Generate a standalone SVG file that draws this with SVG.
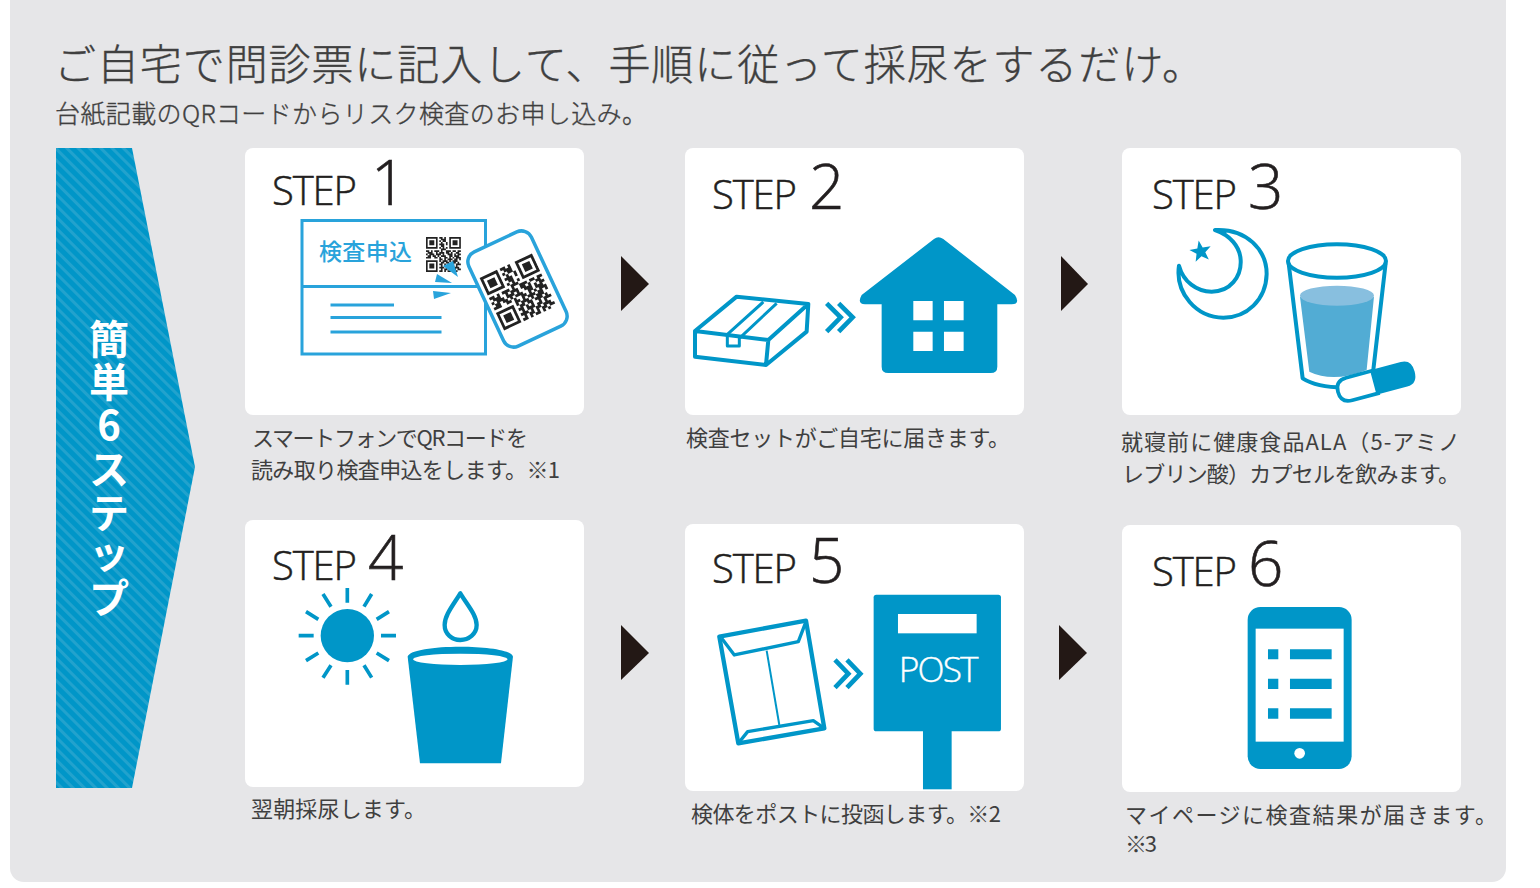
<svg xmlns="http://www.w3.org/2000/svg" xmlns:xlink="http://www.w3.org/1999/xlink" width="1540" height="888" viewBox="0 0 1540 888">
<style>
text{font-family:"Noto Sans CJK JP","Noto Sans",sans-serif;font-weight:400;fill:#3f3f3f}
.cap{font-size:22px}
.head{font-weight:300;stroke:#3f3f3f;stroke-width:.35}
.step{font-family:"Open Sans","Noto Sans",sans-serif;font-weight:300;font-size:40px;fill:#231f20;stroke:#231f20;stroke-width:.5}
.num{font-family:"Open Sans","Noto Sans",sans-serif;font-weight:300;font-size:62px;fill:#231f20;stroke:#231f20;stroke-width:.6}
.card{fill:#fff}
.b{fill:#0096c8}
.w{fill:#fff}
.ol{fill:none;stroke:#0096c8;stroke-linejoin:round}
.lb{fill:none;stroke:#29a3db}
.tb{fill:#29a3db}
</style>
<defs>
<pattern id="stripes" width="8" height="8" patternUnits="userSpaceOnUse" patternTransform="rotate(45)">
<rect width="8" height="8" fill="#0096c8"/><rect width="8" height="3" fill="#22a2cd"/>
</pattern>
<g id="qr"><path fill="none" stroke="#222" stroke-width="1.04" d="M0 .5h7M8 .5h2M11 .5h1M14 .5h7M0 1.5h1M6 1.5h1M9 1.5h3M14 1.5h1M20 1.5h1M0 2.5h1M2 2.5h3M6 2.5h1M8 2.5h1M10 2.5h2M14 2.5h1M16 2.5h3M20 2.5h1M0 3.5h1M2 3.5h3M6 3.5h1M9 3.5h1M12 3.5h1M14 3.5h1M16 3.5h3M20 3.5h1M0 4.5h1M2 4.5h3M6 4.5h1M8 4.5h3M12 4.5h1M14 4.5h1M16 4.5h3M20 4.5h1M0 5.5h1M6 5.5h1M9 5.5h2M14 5.5h1M20 5.5h1M0 6.5h7M8 6.5h1M10 6.5h1M12 6.5h1M14 6.5h7M9 7.5h3M0 8.5h2M3 8.5h1M5 8.5h3M9 8.5h1M12 8.5h3M16 8.5h2M19 8.5h2M1 9.5h3M6 9.5h1M8 9.5h3M12 9.5h2M15 9.5h1M18 9.5h2M0 10.5h1M2 10.5h3M6 10.5h3M10 10.5h1M13 10.5h3M17 10.5h1M19 10.5h2M1 11.5h2M4 11.5h2M7 11.5h1M9 11.5h3M14 11.5h2M17 11.5h3M0 12.5h3M5 12.5h2M8 12.5h1M11 12.5h2M14 12.5h1M16 12.5h1M18 12.5h3M8 13.5h2M11 13.5h1M13 13.5h3M17 13.5h2M20 13.5h1M0 14.5h7M8 14.5h1M10 14.5h3M14 14.5h1M16 14.5h3M0 15.5h1M6 15.5h1M9 15.5h2M12 15.5h2M15 15.5h3M19 15.5h1M0 16.5h1M2 16.5h3M6 16.5h1M8 16.5h2M11 16.5h1M13 16.5h1M16 16.5h1M18 16.5h3M0 17.5h1M2 17.5h3M6 17.5h1M9 17.5h1M11 17.5h3M15 17.5h2M18 17.5h1M0 18.5h1M2 18.5h3M6 18.5h1M8 18.5h3M12 18.5h1M14 18.5h2M17 18.5h3M0 19.5h1M6 19.5h1M9 19.5h1M11 19.5h2M14 19.5h1M16 19.5h2M19 19.5h2M0 20.5h7M8 20.5h2M11 20.5h1M13 20.5h2M16 20.5h1M18 20.5h1"/></g>
</defs>
<rect width="1540" height="888" fill="#fff"/>
<rect x="10" y="-14" width="1496" height="896" rx="14" fill="#e6e6e8"/>
<g id="title">
<text class="head" x="54" y="80" font-size="42" textLength="1150" lengthAdjust="spacing">ご自宅で問診票に記入して、手順に従って採尿をするだけ。</text>
<text class="head" x="55" y="123" font-size="25" textLength="592" lengthAdjust="spacing">台紙記載のQRコードからリスク検査のお申し込み。</text>
</g>
<g id="banner">
<polygon points="56,148 132,148 195,467 132,788 56,788" fill="url(#stripes)"/>
<text x="109 109 109 109 109 109 109" y="354 397 440 484 528 568 613" font-size="40" text-anchor="middle" style="font-weight:700;fill:#fff">簡単6ステップ</text>
</g>
<g id="step1">
<rect class="card" x="245" y="148" width="339" height="267" rx="8"/>
<text class="step" x="272" y="205" textLength="85">STEP</text><text class="num" x="371" y="205">1</text>
<rect class="lb" x="302" y="220.500" width="183.500" height="133.500" stroke-width="3"/>
<path class="lb" stroke-width="3" d="M302 286.500H486"/>
<path class="lb" stroke-width="2.800" d="M330.500 305H394M330.500 317.500H441.500M330.500 332H441.500"/>
<text x="319" y="260" font-size="23" textLength="93" style="fill:#29a3db;font-weight:500">検査申込</text>
<use xlink:href="#qr" transform="translate(426 237) scale(1.66)"/>
<polygon class="tb" points="443,266 453,261 458,277"/>
<polygon class="tb" points="435,282 437,274 452,283"/>
<polygon class="tb" points="433,291 451,293 434,299"/>
<rect x="483" y="237" width="69" height="104" rx="11" transform="rotate(-25 517.500 289)" fill="#fff" stroke="#29a3db" stroke-width="3.500"/>
<use xlink:href="#qr" transform="translate(518 292) rotate(-25) scale(2.75) translate(-10.500 -10.500)"/>
<text class="cap" x="252" y="446" textLength="276">スマートフォンでQRコードを</text>
<text class="cap" x="251" y="478" textLength="309">読み取り検査申込をします。※1</text>
</g>
<g id="step2">
<rect class="card" x="685" y="148" width="339" height="267" rx="8"/>
<text class="step" x="712" y="209" textLength="85">STEP</text><text class="num" x="809" y="209">2</text>
<g transform="translate(680 150) scale(.3333)">
<path class="ol" stroke-width="12" d="M170 440L385 462L265 570L45 543ZM45 543V620L258 645L265 570M385 462L380 545L258 645"/>
<path class="ol" stroke-width="9" d="M250 456L142 553V588H178V565L290 460"/>
<path class="ol" stroke-width="14" style="stroke-linejoin:miter" d="M440 460L482 502L440 545M476 460L518 502L476 545"/>
<path class="b" d="M762 267Q775 257 790 267L1005 435Q1022 462 995 463H952V650Q952 669 932 669H625Q605 669 605 650V463H555Q530 462 545 435Z"/>
<path class="w" d="M700 453h58v58h-58zM792 453h59v58h-59zM700 545h58v58h-58zM792 545h59v58h-59z"/>
</g>
<text class="cap" x="686" y="446" textLength="324">検査セットがご自宅に届きます。</text>
</g>
<g id="step3">
<rect class="card" x="1122" y="148" width="339" height="267" rx="8"/>
<text class="step" x="1152" y="209" textLength="85">STEP</text><text class="num" x="1248" y="209">3</text>
<g transform="translate(1120 150) scale(.3333)">
<path class="ol" stroke-width="12" d="M285 240C380 235 440 300 440 372C438 450 380 503 310 503C230 503 165 430 177 347C190 395 230 425 275 425C330 425 365 380 362 330C360 290 330 255 285 240Z"/>
<polygon class="b" points="236,271.500 248,292.400 272,289 255.900,307 266.500,328.600 244.400,318.800 227,335.600 229.600,311.600 208.300,300.300 232,295.300"/>
<path fill="#52acd4" d="M540 440L568 665Q640 700 740 660L762 440Q720 460 650 462Q580 460 540 440Z"/>
<ellipse cx="651" cy="437" rx="111" ry="30" fill="#88bfdf"/>
<ellipse class="ol" cx="651" cy="333" rx="147" ry="50" stroke-width="12"/>
<path class="ol" stroke-width="12" d="M506 340L548 685Q590 712 670 712M797 340L760 660"/>
<g transform="rotate(-15 770 695)">
<path class="b" d="M765 660H855Q885 660 885 695Q885 730 855 730H765Z" stroke="#0096c8" stroke-width="6"/>
<path fill="#fff" stroke="#0096c8" stroke-width="11" d="M765 660H685Q650 660 650 695Q650 730 685 730H765Z"/>
</g>
</g>
<text class="cap" x="1121" y="450" textLength="339">就寝前に健康食品ALA（5-アミノ</text>
<text class="cap" x="1122" y="482" textLength="338">レブリン酸）カプセルを飲みます。</text>
</g>
<g id="step4">
<rect class="card" x="245" y="520" width="339" height="267" rx="8"/>
<text class="step" x="272" y="580" textLength="85">STEP</text><text class="num" x="368" y="580">4</text>
<g transform="translate(250 530) scale(.3333)">
<circle class="b" cx="292" cy="317" r="80"/>
<path class="ol" stroke-width="11" d="M292 174V218M292 420V464M146 317H191M393 317H438M219 192L243 230M365 192L342 230M168 245L205 268M417 245L380 268M168 392L205 369M417 392L380 369M219 443L243 406M365 443L342 406"/>
<path class="ol" stroke-width="13" d="M631 190C610 225 584 255 584 285C584 312 606 330 631 330C656 330 680 312 680 285C680 255 652 225 631 190Z"/>
<path class="b" d="M473 380C480 340 782 340 789 380L753 700H510Z"/>
<ellipse class="w" cx="631" cy="388" rx="142" ry="17"/>
</g>
<text class="cap" x="251" y="817" textLength="175">翌朝採尿します。</text>
</g>
<g id="step5">
<rect class="card" x="685" y="524" width="339" height="267" rx="8"/>
<text class="step" x="712" y="583" textLength="85">STEP</text><text class="num" x="809" y="583">5</text>
<g transform="translate(680 530) scale(.3333)">
<path class="ol" stroke-width="13" d="M118 320L378 272L433 595L175 640Z"/>
<path class="ol" stroke-width="10" d="M125 325L163 375L355 335L378 275M175 640L203 605L400 572L433 595"/>
<path class="ol" stroke-width="6" d="M260 362L298 585"/>
<path class="ol" stroke-width="14" style="stroke-linejoin:miter" d="M465 390L505 431L465 473M501 390L541 431L501 473"/>
<rect class="b" x="581" y="194" width="382" height="410" rx="8"/>
<rect class="b" x="729" y="600" width="86" height="178"/>
<rect class="w" x="654" y="252" width="236" height="58"/>
<text x="776" y="456" font-size="106" text-anchor="middle" textLength="240" style='font-family:"Open Sans",sans-serif;font-weight:300;fill:#fff;stroke:#fff;stroke-width:1.2'>POST</text>
</g>
<text class="cap" x="691" y="822" textLength="310">検体をポストに投函します。※2</text>
</g>
<g id="step6">
<rect class="card" x="1122" y="525" width="339" height="267" rx="8"/>
<text class="step" x="1152" y="586" textLength="85">STEP</text><text class="num" x="1248" y="586">6</text>
<g transform="translate(1120 530) scale(.3333)">
<rect class="b" x="383" y="231" width="312" height="486" rx="38"/>
<rect class="w" x="407" y="296" width="264" height="339"/>
<circle class="w" cx="539" cy="670" r="16"/>
<path class="b" d="M444 358h31v30h-31zM510 358h125v30h-125zM444 446h31v31h-31zM510 446h125v31h-125zM444 535h31v31h-31zM510 535h125v31h-125z"/>
</g>
<text class="cap" x="1125" y="823" textLength="372">マイページに検査結果が届きます。</text>
<text class="cap" x="1125" y="852" textLength="32">※3</text>
</g>
<g id="connectors" fill="#231815">
<polygon points="621,256 649,284 621,311"/>
<polygon points="1061,256 1088,284 1061,311"/>
<polygon points="621,625 649,653 621,680"/>
<polygon points="1059,625 1087,653 1059,680"/>
</g>
</svg>
